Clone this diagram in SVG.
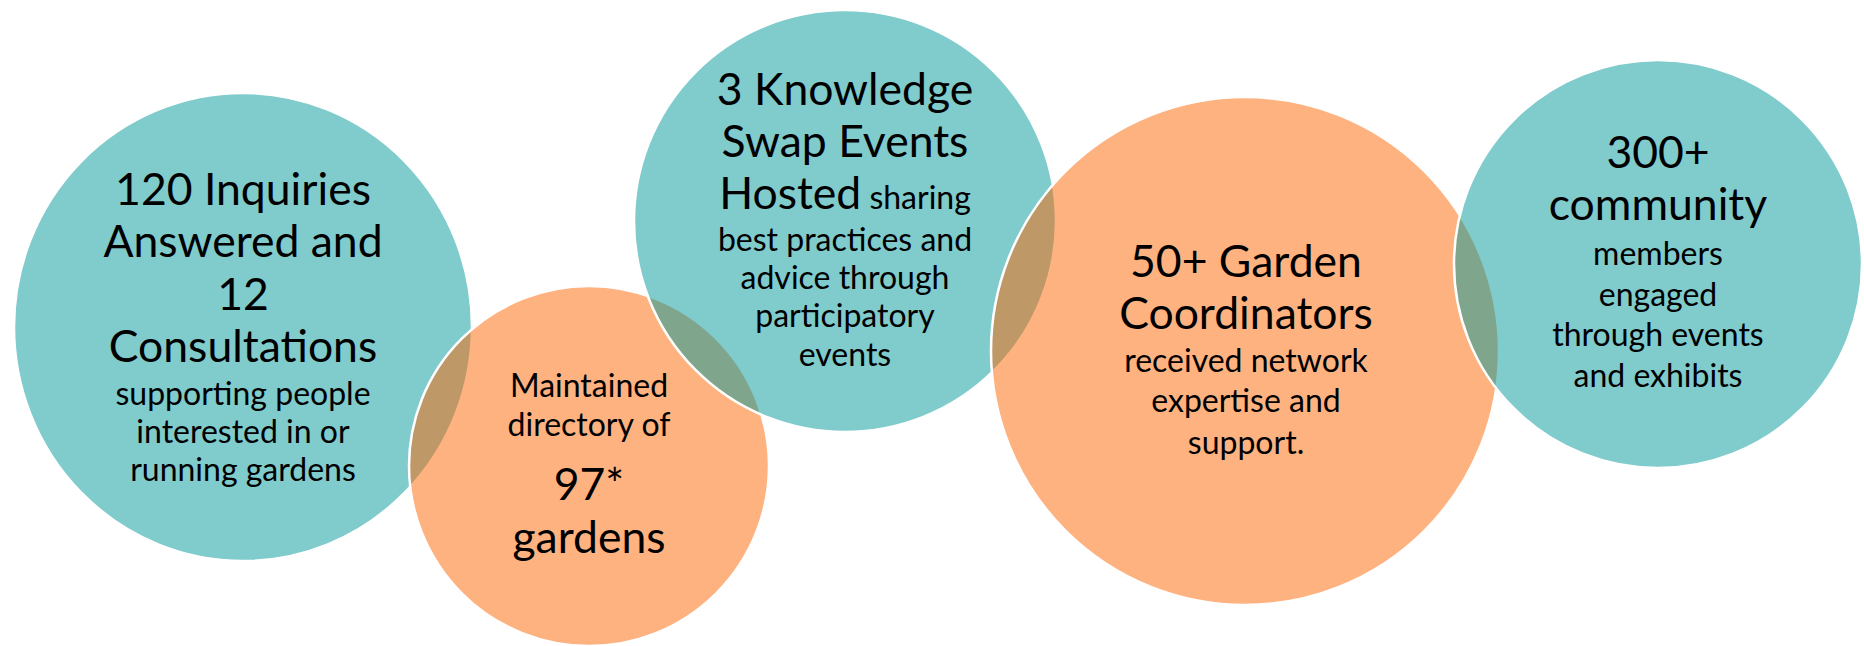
<svg xmlns="http://www.w3.org/2000/svg" width="1864" height="646" viewBox="0 0 1864 646">
<style>
.teal{fill:rgb(1,151,153);fill-opacity:.5;stroke:#fff;stroke-width:2.5}
.orange{fill:rgb(253,101,1);fill-opacity:.5;stroke:#fff;stroke-width:2.5}
text{font-family:Lato,"Liberation Sans",sans-serif;fill:#000;text-anchor:middle}
.lg{font-size:44.5px}
.sm{font-size:32px}
</style>
<rect width="1864" height="646" fill="#fff"/>
<g id="connectors"/>
<g id="node-inquiries">
<ellipse class="teal" cx="243" cy="327" rx="229" ry="234"/>
<text class="lg" x="243" y="205">120 Inquiries</text>
<text class="lg" x="243" y="257">Answered and</text>
<text class="lg" x="243" y="310">12</text>
<text class="lg" x="243" y="362">Consultations</text>
<text class="sm" x="243" y="405">supporting people</text>
<text class="sm" x="243" y="443">interested in or</text>
<text class="sm" x="243" y="481">running gardens</text>
</g>
<g id="node-directory">
<circle class="orange" cx="589" cy="466" r="180"/>
<text class="sm" x="589" y="397">Maintained</text>
<text class="sm" x="589" y="436">directory of</text>
<text class="lg" x="589" y="500">97*</text>
<text class="lg" x="589" y="553">gardens</text>
</g>
<g id="node-knowledge">
<circle class="teal" cx="845" cy="221" r="211"/>
<text class="lg" x="845" y="105">3 Knowledge</text>
<text class="lg" x="845" y="157">Swap Events</text>
<text x="845" y="209"><tspan class="lg">Hosted</tspan><tspan class="sm"> sharing</tspan></text>
<text class="sm" x="845" y="251">best practices and</text>
<text class="sm" x="845" y="289">advice through</text>
<text class="sm" x="845" y="327">participatory</text>
<text class="sm" x="845" y="366">events</text>
</g>
<g id="node-coordinators">
<circle class="orange" cx="1245" cy="351" r="254"/>
<text class="lg" x="1246" y="277">50+ Garden</text>
<text class="lg" x="1246" y="329">Coordinators</text>
<text class="sm" x="1246" y="372">received network</text>
<text class="sm" x="1246" y="412">expertise and</text>
<text class="sm" x="1246" y="454">support.</text>
</g>
<g id="node-community">
<circle class="teal" cx="1658" cy="264" r="204"/>
<text class="lg" x="1658" y="168">300+</text>
<text class="lg" x="1658" y="220">community</text>
<text class="sm" x="1658" y="265">members</text>
<text class="sm" x="1658" y="306">engaged</text>
<text class="sm" x="1658" y="346">through events</text>
<text class="sm" x="1658" y="387">and exhibits</text>
</g>
</svg>
